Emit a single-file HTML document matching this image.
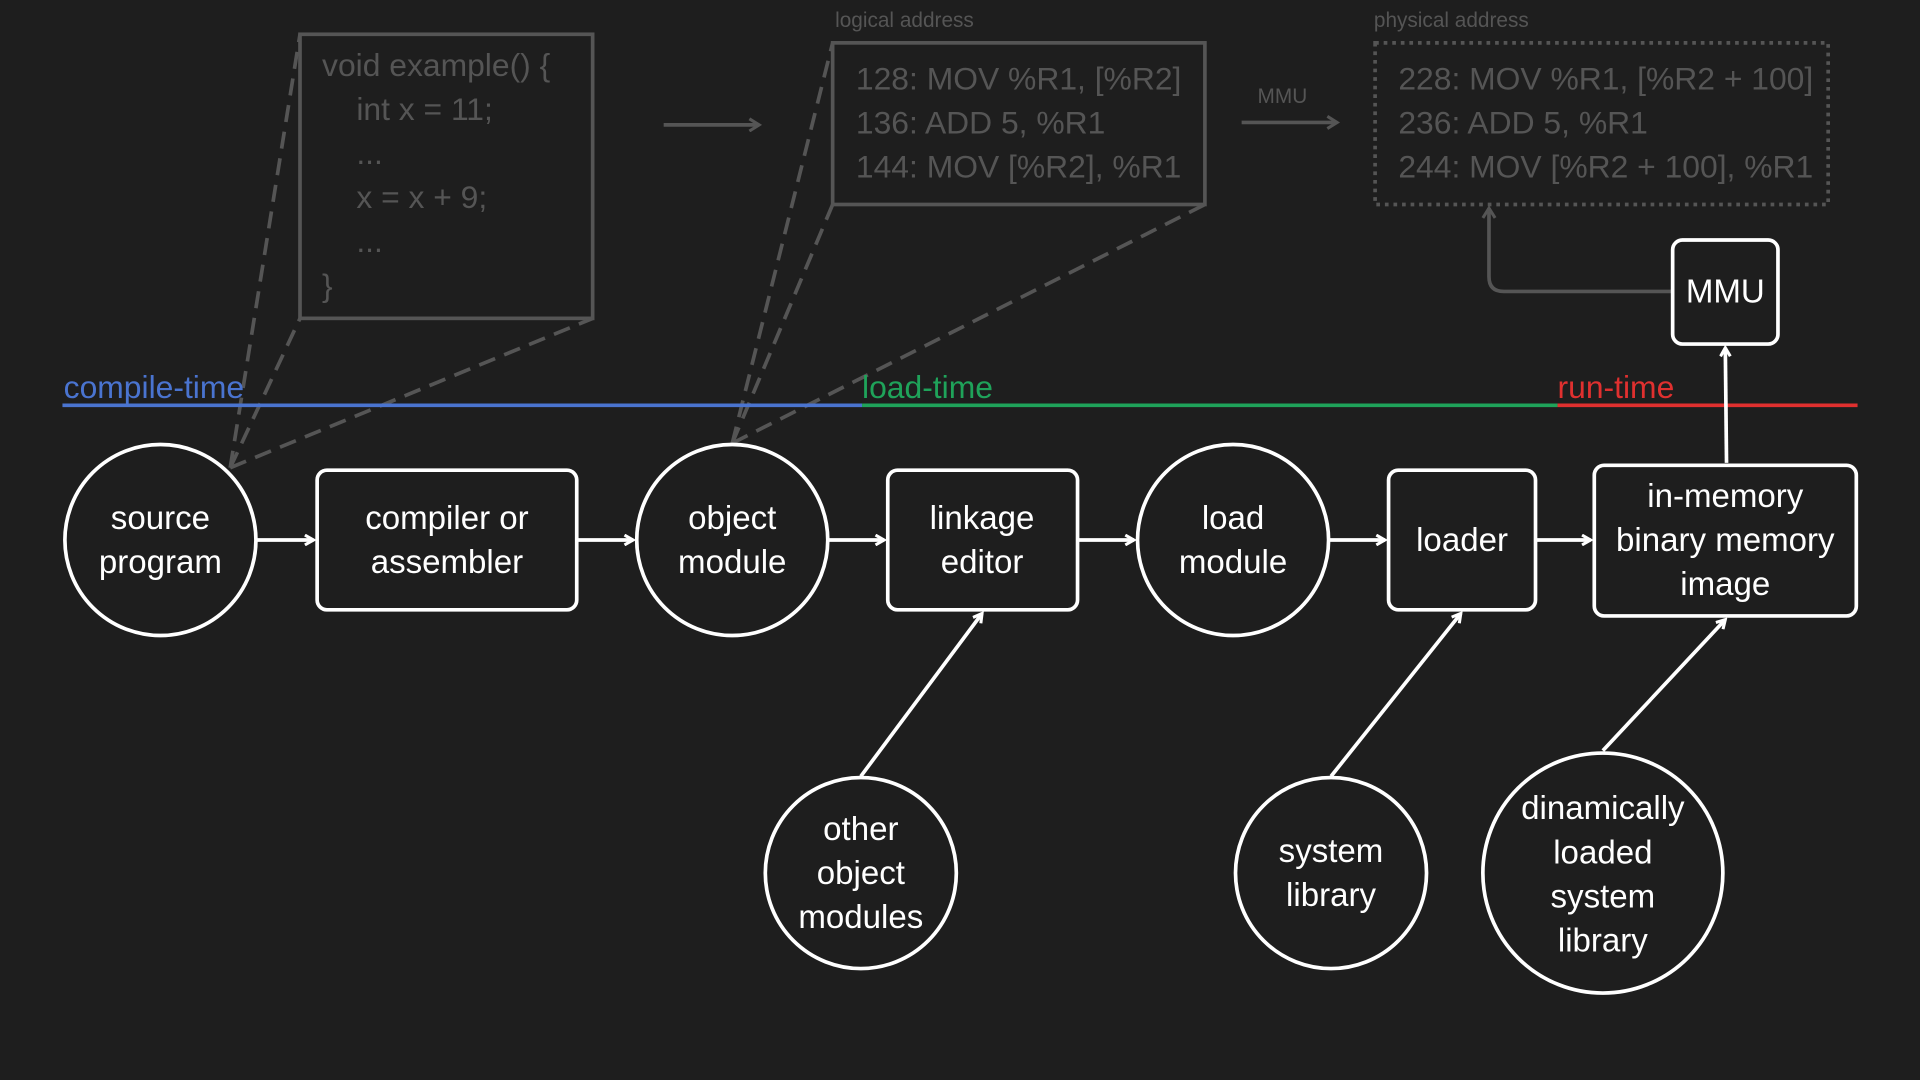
<!DOCTYPE html>
<html><head><meta charset="utf-8"><style>
html,body{margin:0;padding:0;background:#1e1e1e;}
svg{display:block;}
text{font-family:"Liberation Sans","DejaVu Sans",sans-serif;}
</style></head><body>
<svg width="1920" height="1080" viewBox="0 0 1568 882" xmlns="http://www.w3.org/2000/svg">
<rect width="1568" height="882" fill="#1e1e1e"/>
<defs>
<marker id="aw" markerWidth="10" markerHeight="10" refX="8" refY="5" orient="auto" markerUnits="userSpaceOnUse"><path d="M1,1 L8,5 L1,9" fill="none" stroke="#fff" stroke-width="2.5"/></marker>
<marker id="ag" markerWidth="12" markerHeight="12" refX="9" refY="6" orient="auto" markerUnits="userSpaceOnUse"><path d="M1,1 L9,6 L1,11" fill="none" stroke="#555" stroke-width="2.5"/></marker>
</defs>
<g stroke="#555" stroke-width="3" fill="none">
<rect x="245" y="28" width="239" height="232"/>
<rect x="680" y="35" width="304" height="132"/>
<rect x="1123" y="35" width="370" height="132" stroke-dasharray="3,4"/>
<line x1="542" y1="102" x2="620" y2="102" marker-end="url(#ag)"/>
<line x1="1014" y1="100" x2="1092" y2="100" marker-end="url(#ag)"/>
<path d="M1365,238 H1228 Q1216,238 1216,226 V170" marker-end="url(#ag)"/>
<g stroke-dasharray="14,8">
<line x1="188" y1="382" x2="245" y2="28"/>
<line x1="188" y1="382" x2="245" y2="260"/>
<line x1="188" y1="382" x2="484" y2="260"/>
<line x1="598" y1="362" x2="680" y2="35"/>
<line x1="598" y1="362" x2="680" y2="167"/>
<line x1="598" y1="362" x2="984" y2="167"/>
</g>
</g>
<g fill="#555" font-size="26">
<text x="263" y="62">void example() {</text>
<text x="291" y="98">int x = 11;</text>
<text x="291" y="134">...</text>
<text x="291" y="170">x = x + 9;</text>
<text x="291" y="206">...</text>
<text x="263" y="242">}</text>
<text x="699" y="73">128: MOV %R1, [%R2]</text>
<text x="699" y="109">136: ADD 5, %R1</text>
<text x="699" y="145">144: MOV [%R2], %R1</text>
<text x="1142" y="73">228: MOV %R1, [%R2 + 100]</text>
<text x="1142" y="109">236: ADD 5, %R1</text>
<text x="1142" y="145">244: MOV [%R2 + 100], %R1</text>
</g>
<g fill="#555" font-size="17">
<text x="682" y="22">logical address</text>
<text x="1122" y="22">physical address</text>
<text x="1027" y="84">MMU</text>
</g>
<line x1="51" y1="331" x2="704" y2="331" stroke="#4a74d0" stroke-width="3"/>
<line x1="704" y1="331" x2="1272" y2="331" stroke="#1fa35a" stroke-width="3"/>
<line x1="1272" y1="331" x2="1517" y2="331" stroke="#e0302f" stroke-width="3"/>
<text x="52" y="325" font-size="26" fill="#4a74d0">compile-time</text>
<text x="704" y="325" font-size="26" fill="#1fa35a">load-time</text>
<text x="1272" y="325" font-size="26" fill="#e0302f">run-time</text>
<g stroke="#fff" stroke-width="3" fill="none">
<circle cx="131" cy="441" r="78"/>
<rect x="259" y="384" width="212" height="114" rx="8"/>
<circle cx="598" cy="441" r="78"/>
<rect x="725" y="384" width="155" height="114" rx="8"/>
<circle cx="1007" cy="441" r="78"/>
<rect x="1134" y="384" width="120" height="114" rx="8"/>
<rect x="1302" y="380" width="214" height="123" rx="8"/>
<rect x="1366" y="196" width="86" height="85" rx="8"/>
<circle cx="703" cy="713" r="78"/>
<circle cx="1087" cy="713" r="78"/>
<circle cx="1309" cy="713" r="98"/>
<line x1="210" y1="441" x2="256" y2="441" marker-end="url(#aw)"/>
<line x1="472" y1="441" x2="517" y2="441" marker-end="url(#aw)"/>
<line x1="677" y1="441" x2="722" y2="441" marker-end="url(#aw)"/>
<line x1="881" y1="441" x2="926" y2="441" marker-end="url(#aw)"/>
<line x1="1086" y1="441" x2="1131" y2="441" marker-end="url(#aw)"/>
<line x1="1255" y1="441" x2="1299" y2="441" marker-end="url(#aw)"/>
<line x1="1410" y1="378" x2="1409" y2="284" marker-end="url(#aw)"/>
<line x1="703" y1="634" x2="802" y2="501" marker-end="url(#aw)"/>
<line x1="1087" y1="634" x2="1193" y2="501" marker-end="url(#aw)"/>
<line x1="1309" y1="613" x2="1409" y2="506" marker-end="url(#aw)"/>
</g>
<g fill="#fff" font-size="27" text-anchor="middle">
<text x="131" y="432">source</text><text x="131" y="468">program</text>
<text x="365" y="432">compiler or</text><text x="365" y="468">assembler</text>
<text x="598" y="432">object</text><text x="598" y="468">module</text>
<text x="802" y="432">linkage</text><text x="802" y="468">editor</text>
<text x="1007" y="432">load</text><text x="1007" y="468">module</text>
<text x="1194" y="450">loader</text>
<text x="1409" y="414">in-memory</text><text x="1409" y="450">binary memory</text><text x="1409" y="486">image</text>
<text x="1409" y="247">MMU</text>
<text x="703" y="686">other</text><text x="703" y="722">object</text><text x="703" y="758">modules</text>
<text x="1087" y="704">system</text><text x="1087" y="740">library</text>
<text x="1309" y="669">dinamically</text><text x="1309" y="705">loaded</text><text x="1309" y="741">system</text><text x="1309" y="777">library</text>
</g>
</svg>
</body></html>
